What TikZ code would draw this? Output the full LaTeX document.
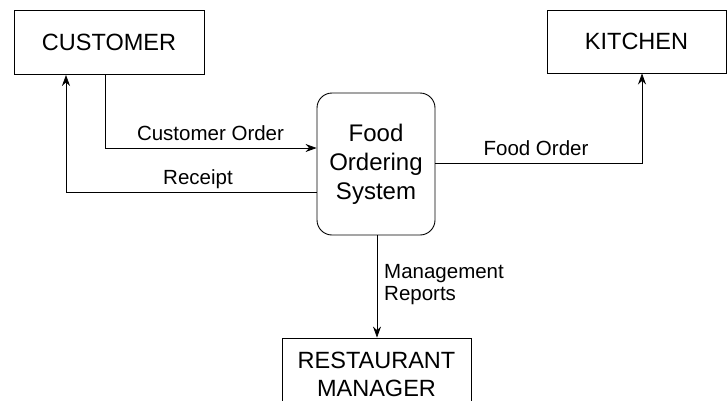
\documentclass[tikz,border=0pt]{standalone}
\usepackage{fontspec}
\setmainfont{Liberation Sans}
\usetikzlibrary{arrows.meta}
\begin{document}
\begin{tikzpicture}[x=1pt,y=-1pt,
  box/.style={draw, line width=0.9pt, inner sep=0pt, font=\fontsize{23.5}{28}\selectfont, align=center},
  proc/.style={draw, line width=0.9pt, rounded corners=15pt, inner sep=0pt, font=\fontsize{24}{29}\selectfont, align=center},
  lbl/.style={font=\fontsize{20.5}{22}\selectfont, inner sep=0pt},
  arr/.style={line width=0.7pt, -{Stealth[length=11pt,width=8pt]}}]
\useasboundingbox (0,0) rectangle (727,400);
\clip (0,0) rectangle (727,400);
\node[box, minimum width=190pt, minimum height=64pt] (cust) at (109,42.5) {CUSTOMER};
\node[box, minimum width=179pt, minimum height=63pt] (kit) at (636.5,41.5) {KITCHEN};
\node[proc, minimum width=118pt, minimum height=142pt] (fos) at (376,164) {Food\\Ordering\\System};
\node[box, minimum width=189pt, minimum height=72pt] (rm) at (376.5,374) {RESTAURANT\\MANAGER};
\coordinate (cox) at (105,0);
\coordinate (coy) at (0,148);
\coordinate (rx) at (66,0);
\coordinate (ry) at (0,192);
\coordinate (fx) at (642,0);
\coordinate (fy) at (0,163);
\coordinate (mx) at (377,0);
\draw[arr] (cust.south -| cox) |- (fos.west |- coy);
\draw[arr] (fos.west |- ry) -| (cust.south -| rx);
\draw[arr] (fos.east |- fy) -| (kit.south -| fx);
\draw[arr] (fos.south -| mx) -- (rm.north -| mx);
\node[lbl, anchor=base] (l1) at (210.5,140) {Customer Order};
\node[lbl, anchor=base] (l2) at (198,184) {Receipt};
\node[lbl, anchor=base] (l3) at (536,155) {Food Order};
\node[lbl, anchor=base west] (l4) at (384,278) {Management};
\node[lbl, anchor=base west] (l5) at (384,300) {Reports};
\end{tikzpicture}
\end{document}
